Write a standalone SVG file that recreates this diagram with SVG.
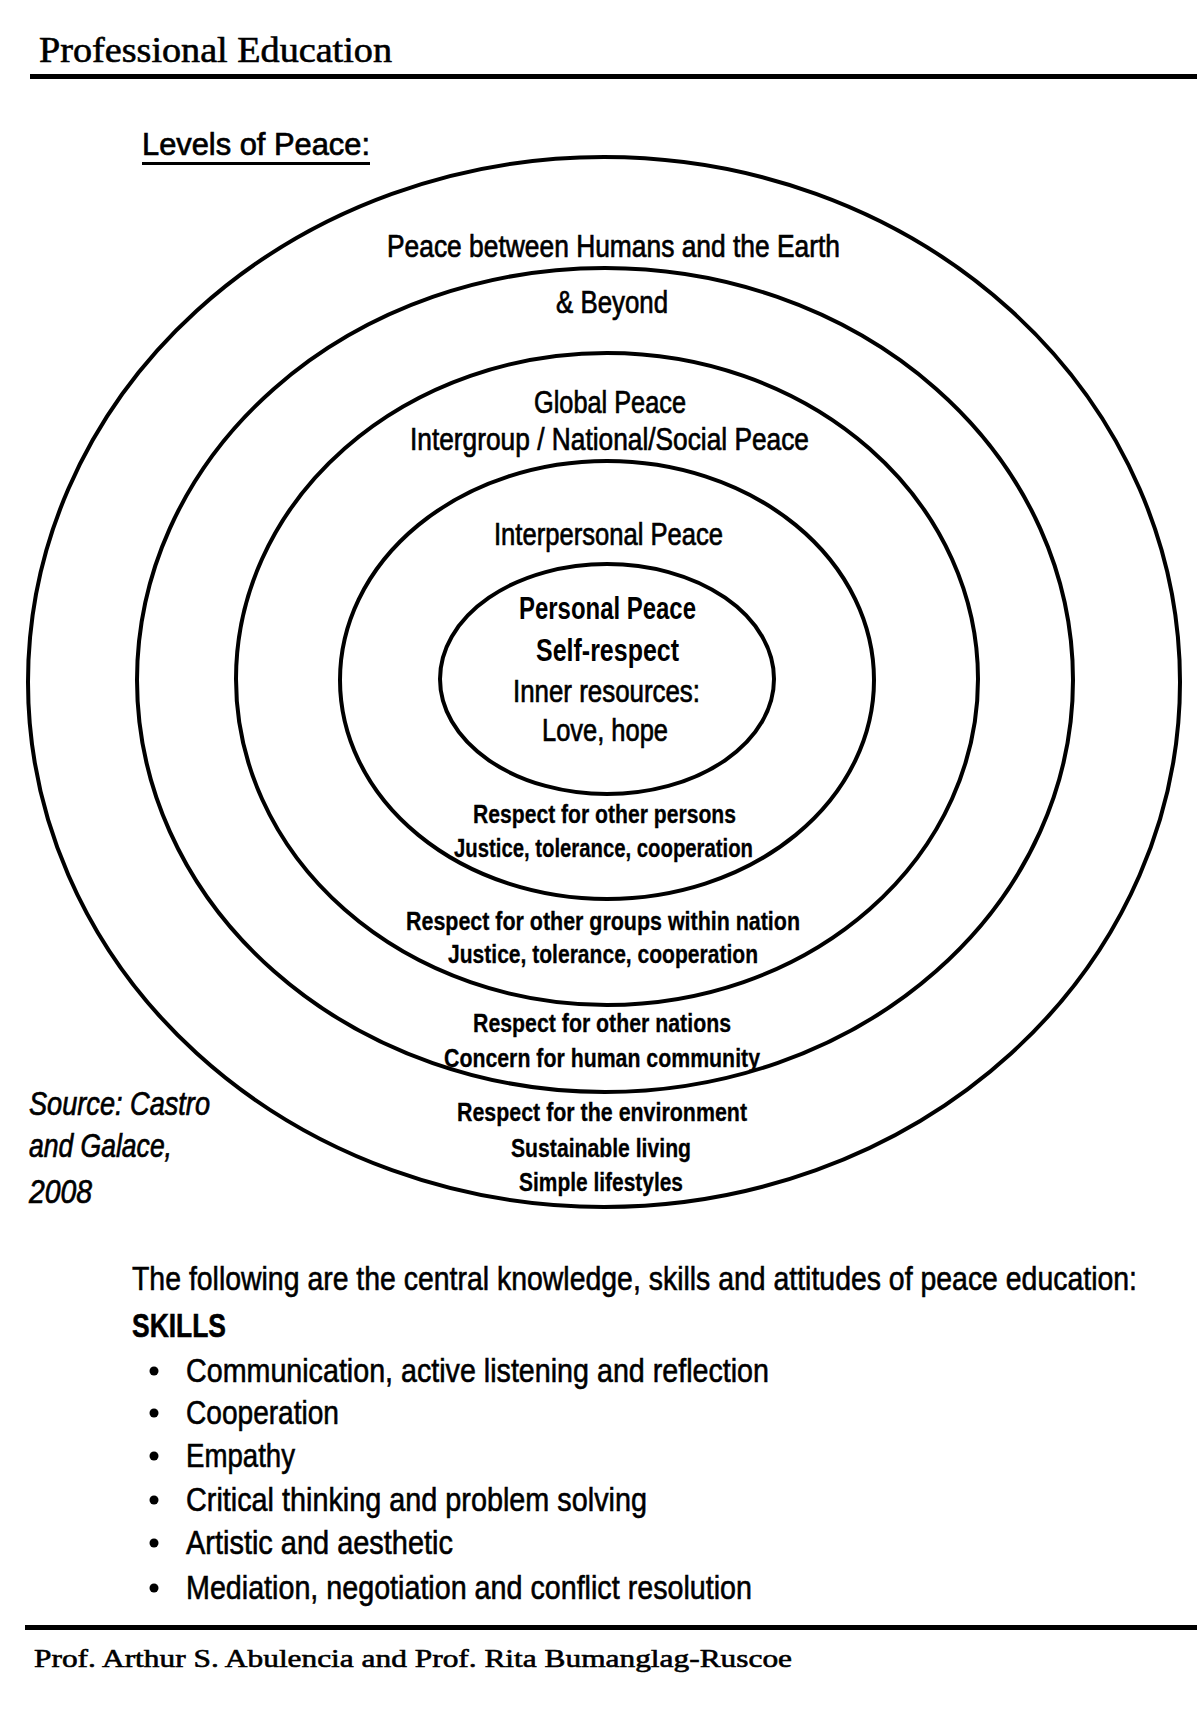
<svg xmlns="http://www.w3.org/2000/svg" width="1197" height="1716" viewBox="0 0 1197 1716">
<style>
.ring{fill:none;stroke:#000;stroke-width:4}
.lbl{font-family:"Liberation Sans",Arial,sans-serif;font-size:31px;fill:#000;stroke:#000;stroke-width:0.7}
.lblb{font-family:"Liberation Sans",Arial,sans-serif;font-size:31px;font-weight:bold;fill:#000}
.small{font-family:"Liberation Sans",Arial,sans-serif;font-size:25px;font-weight:bold;fill:#000;stroke:#000;stroke-width:0.3}
.src{font-family:"Liberation Sans",Arial,sans-serif;font-size:33px;font-style:italic;fill:#000;stroke:#000;stroke-width:0.7}
.body{font-family:"Liberation Sans",Arial,sans-serif;font-size:34px;fill:#000;stroke:#000;stroke-width:0.6}
.serif{font-family:"Liberation Serif","Times New Roman",serif;fill:#000;stroke:#000;stroke-width:0.6}
</style>
<rect width="1197" height="1716" fill="#fff"/>
<g id="header">
<text class="serif" x="39" y="62" font-size="36" textLength="353" lengthAdjust="spacingAndGlyphs">Professional Education</text>
<rect x="30" y="74" width="1167" height="5" fill="#000"/>
</g>
<g id="title">
<text class="lbl" x="142" y="155" font-size="34" textLength="228" lengthAdjust="spacingAndGlyphs">Levels of Peace:</text>
<rect x="142" y="162" width="228" height="3" fill="#000"/>
</g>
<g id="connectors"/>
<g id="ring-earth">
<ellipse class="ring" cx="604" cy="682" rx="576" ry="525"/>
<text class="lbl" x="387" y="257" textLength="453" lengthAdjust="spacingAndGlyphs">Peace between Humans and the Earth</text>
<text class="lbl" x="556" y="313" textLength="112" lengthAdjust="spacingAndGlyphs">&amp; Beyond</text>
<text class="small" x="457" y="1121" textLength="290" lengthAdjust="spacingAndGlyphs">Respect for the environment</text>
<text class="small" x="511" y="1157" textLength="180" lengthAdjust="spacingAndGlyphs">Sustainable living</text>
<text class="small" x="519" y="1191" textLength="164" lengthAdjust="spacingAndGlyphs">Simple lifestyles</text>
</g>
<g id="ring-global">
<ellipse class="ring" cx="605" cy="680" rx="468" ry="412"/>
<text class="lbl" x="534" y="413" textLength="152" lengthAdjust="spacingAndGlyphs">Global Peace</text>
<text class="small" x="473" y="1032" textLength="258" lengthAdjust="spacingAndGlyphs">Respect for other nations</text>
<text class="small" x="444" y="1067" textLength="316" lengthAdjust="spacingAndGlyphs">Concern for human community</text>
</g>
<g id="ring-intergroup">
<ellipse class="ring" cx="607" cy="679" rx="371" ry="326"/>
<text class="lbl" x="410" y="450" textLength="399" lengthAdjust="spacingAndGlyphs">Intergroup / National/Social Peace</text>
<text class="small" x="406" y="930" textLength="394" lengthAdjust="spacingAndGlyphs">Respect for other groups within nation</text>
<text class="small" x="448" y="963" textLength="310" lengthAdjust="spacingAndGlyphs">Justice, tolerance, cooperation</text>
</g>
<g id="ring-interpersonal">
<ellipse class="ring" cx="607" cy="680" rx="267" ry="219"/>
<text class="lbl" x="494" y="545" textLength="229" lengthAdjust="spacingAndGlyphs">Interpersonal Peace</text>
<text class="small" x="473" y="823" textLength="263" lengthAdjust="spacingAndGlyphs">Respect for other persons</text>
<text class="small" x="454" y="857" textLength="299" lengthAdjust="spacingAndGlyphs">Justice, tolerance, cooperation</text>
</g>
<g id="ring-personal">
<ellipse class="ring" cx="607" cy="679" rx="167" ry="115"/>
<text class="lblb" x="519" y="619" textLength="177" lengthAdjust="spacingAndGlyphs">Personal Peace</text>
<text class="lblb" x="536" y="661" textLength="143" lengthAdjust="spacingAndGlyphs">Self-respect</text>
<text class="lbl" x="513" y="702" textLength="187" lengthAdjust="spacingAndGlyphs">Inner resources:</text>
<text class="lbl" x="542" y="741" textLength="126" lengthAdjust="spacingAndGlyphs">Love, hope</text>
</g>
<g id="source">
<text class="src" x="29" y="1115" textLength="181" lengthAdjust="spacingAndGlyphs">Source: Castro</text>
<text class="src" x="29" y="1157" textLength="143" lengthAdjust="spacingAndGlyphs">and Galace,</text>
<text class="src" x="29" y="1203" textLength="63" lengthAdjust="spacingAndGlyphs">2008</text>
</g>
<g id="skills">
<text class="body" x="132" y="1290" textLength="1005" lengthAdjust="spacingAndGlyphs">The following are the central knowledge, skills and attitudes of peace education:</text>
<text class="body" x="132" y="1337" font-weight="bold" textLength="94" lengthAdjust="spacingAndGlyphs">SKILLS</text>
<g fill="#000">
<circle cx="154" cy="1371" r="4.5"/>
<circle cx="154" cy="1413" r="4.5"/>
<circle cx="154" cy="1456" r="4.5"/>
<circle cx="154" cy="1500" r="4.5"/>
<circle cx="154" cy="1543" r="4.5"/>
<circle cx="154" cy="1588" r="4.5"/>
</g>
<text class="body" x="186" y="1382" textLength="583" lengthAdjust="spacingAndGlyphs">Communication, active listening and reflection</text>
<text class="body" x="186" y="1424" textLength="153" lengthAdjust="spacingAndGlyphs">Cooperation</text>
<text class="body" x="186" y="1467" textLength="109" lengthAdjust="spacingAndGlyphs">Empathy</text>
<text class="body" x="186" y="1511" textLength="461" lengthAdjust="spacingAndGlyphs">Critical thinking and problem solving</text>
<text class="body" x="186" y="1554" textLength="267" lengthAdjust="spacingAndGlyphs">Artistic and aesthetic</text>
<text class="body" x="186" y="1599" textLength="566" lengthAdjust="spacingAndGlyphs">Mediation, negotiation and conflict resolution</text>
</g>
<g id="footer">
<rect x="25" y="1625" width="1172" height="5" fill="#000"/>
<text class="serif" x="34" y="1667" font-size="26" textLength="758" lengthAdjust="spacingAndGlyphs">Prof. Arthur S. Abulencia and Prof. Rita Bumanglag-Ruscoe</text>
</g>
</svg>
